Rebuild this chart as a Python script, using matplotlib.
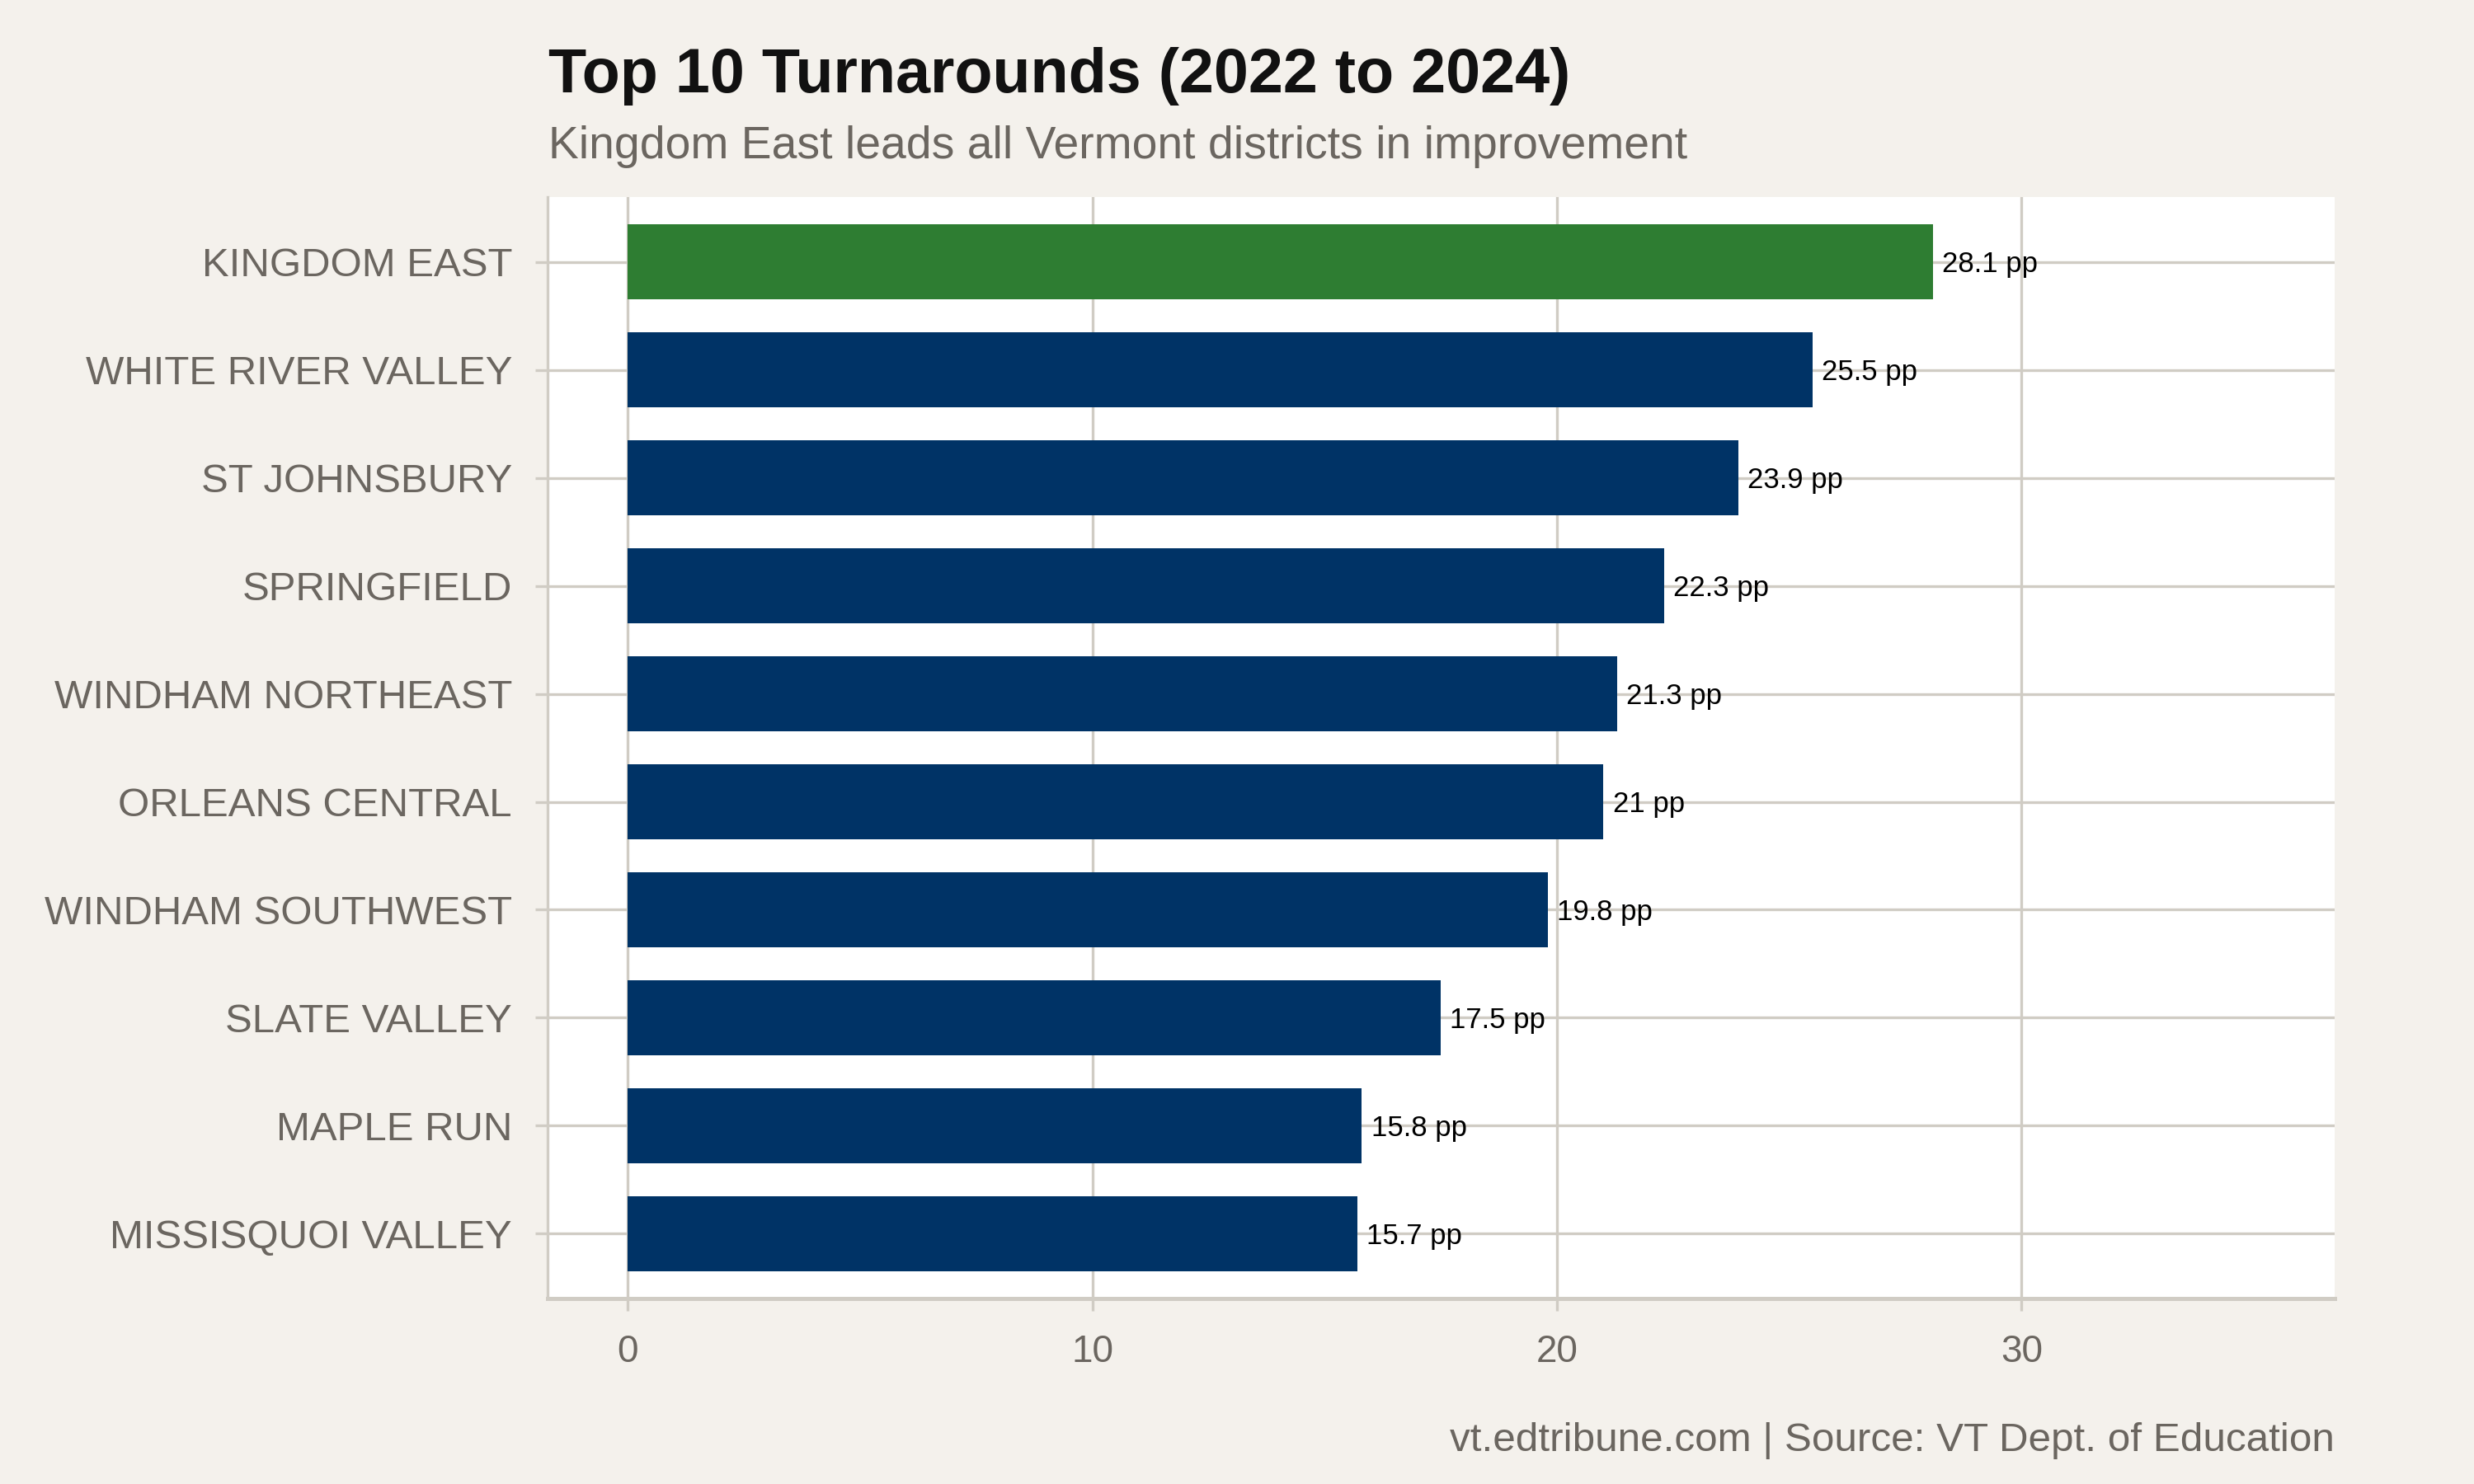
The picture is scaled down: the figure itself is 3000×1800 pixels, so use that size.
import matplotlib
matplotlib.use("Agg")
import matplotlib.pyplot as plt

districts = ["KINGDOM EAST", "WHITE RIVER VALLEY", "ST JOHNSBURY", "SPRINGFIELD",
             "WINDHAM NORTHEAST", "ORLEANS CENTRAL", "WINDHAM SOUTHWEST",
             "SLATE VALLEY", "MAPLE RUN", "MISSISQUOI VALLEY"]
improvement = [28.1, 25.5, 23.9, 22.3, 21.3, 21.0, 19.8, 17.5, 15.8, 15.7]
x_ticks = [0, 10, 20, 30]

title = "Top 10 Turnarounds (2022 to 2024)"
subtitle = "Kingdom East leads all Vermont districts in improvement"
caption = "vt.edtribune.com | Source: VT Dept. of Education"

BG = "#f4f1ec"
GRID = "#d0ccc4"
TEXT = "#6b6660"
NAVY = "#003366"
GREEN = "#2e7d32"

plt.rcParams['font.family'] = ['Liberation Sans', 'DejaVu Sans']

fig = plt.figure(figsize=(15, 9), dpi=200, facecolor=BG)
ax = fig.add_axes([0.2213, 0.125, 0.9437 - 0.2213, 0.8672 - 0.125])
ax.set_facecolor("white")

ypos = list(range(len(districts)))
colors = [GREEN if i == 0 else NAVY for i in range(len(districts))]
ax.barh(ypos, improvement, height=0.7, color=colors, zorder=3)

for y, v in zip(ypos, improvement):
    ax.annotate(f"{v:g} pp", xy=(v, y), xytext=(4, -1), textcoords="offset points",
                va="center", ha="left", fontsize=12.5, color="black", zorder=4)

ax.set_xlim(-1.73, 36.74)
ax.set_ylim(len(districts) - 0.4, -0.6)
ax.set_yticks(ypos)
ax.set_yticklabels(districts)
ax.set_xticks(x_ticks)
ax.set_xticklabels([str(t) for t in x_ticks])

ax.grid(True, color=GRID, linewidth=1.2, zorder=0)
ax.set_axisbelow(True)
ax.tick_params(axis="both", colors=GRID, labelcolor=TEXT, labelsize=16.5,
               length=5.4, width=1.2, pad=10)
ax.tick_params(axis="y", labelsize=17.7)

for s in ["top", "right"]:
    ax.spines[s].set_visible(False)
ax.spines["left"].set_color(GRID)
ax.spines["left"].set_linewidth(1.2)
ax.spines["bottom"].set_color(GRID)
ax.spines["bottom"].set_linewidth(1.8)

fig.text(0.2217, 0.9378, title, fontsize=27.2, fontweight="bold", color="#111111",
         ha="left", va="baseline")
fig.text(0.2217, 0.8933, subtitle, fontsize=19.9, color=TEXT, ha="left", va="baseline")
fig.text(0.9437, 0.0222, caption, fontsize=17.8, color=TEXT, ha="right", va="baseline")

fig.savefig("out.png", dpi=200, facecolor=BG)
